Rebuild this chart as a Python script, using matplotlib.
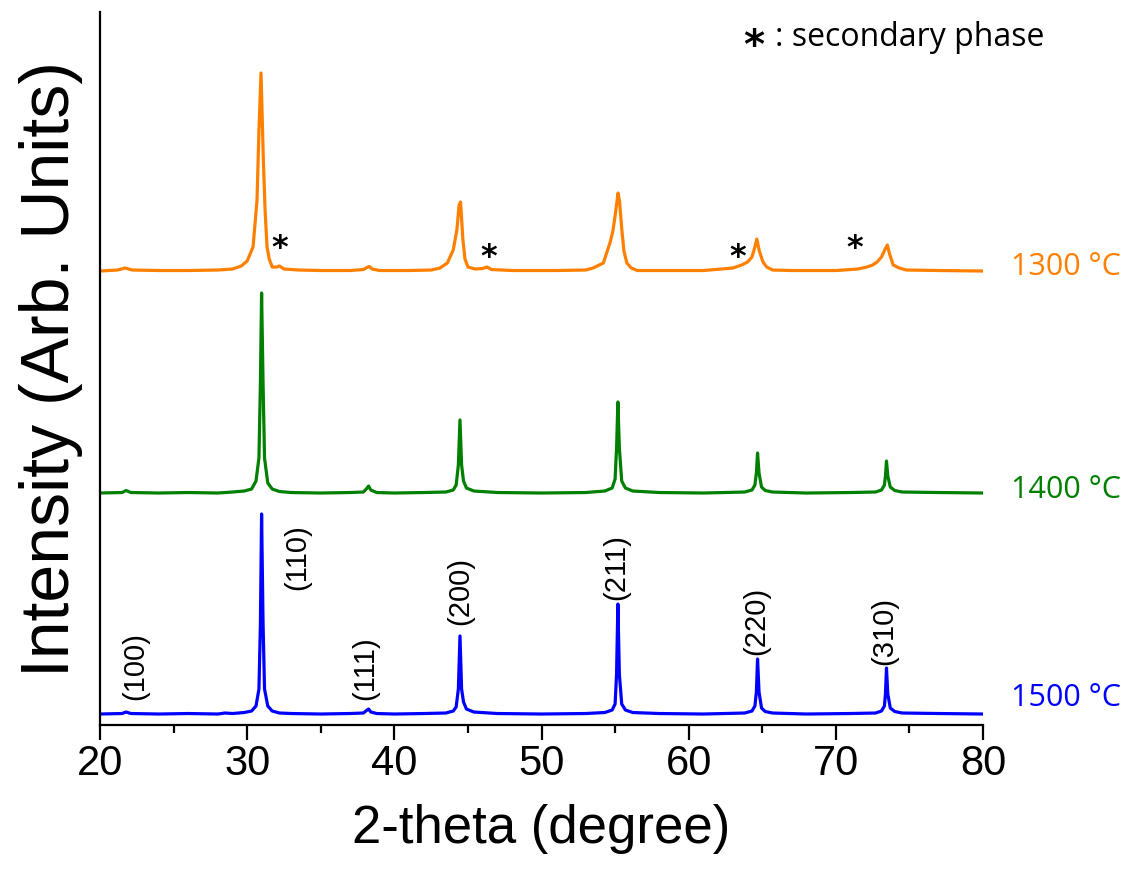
import matplotlib
matplotlib.use("Agg")
import matplotlib.pyplot as plt
from matplotlib.ticker import MultipleLocator

# ---------------- data ----------------
# intensity above each pattern's own baseline (arb. units)
x_1500 = [20.0, 21.5, 21.77, 22.1, 24.0, 26.0, 28.0, 28.5, 29.0, 29.8, 30.3, 30.6,
          30.8, 30.9, 30.98, 31.08, 31.18, 31.4, 31.7, 32.2, 33.0, 35.0, 37.0,
          37.9, 38.15, 38.25, 38.4, 38.8, 40.0, 42.0, 43.5, 44.0, 44.2, 44.35,
          44.46, 44.57, 44.7, 44.9, 45.4, 47.0, 50.0, 53.0, 54.3, 54.8, 55.0,
          55.1, 55.19, 55.29, 55.45, 55.7, 56.2, 58.0, 61.0, 63.8, 64.3, 64.5,
          64.6, 64.68, 64.78, 64.95, 65.2, 65.7, 68.0, 71.0, 72.7, 73.1, 73.3,
          73.37, 73.44, 73.53, 73.7, 74.0, 74.5, 77.0, 80.0]
y_1500 = [0, 0.5, 2, 0.5, 0, 0.5, 0, 1, 0.5, 1.5, 3, 8,
          25, 90, 200, 90, 25, 8, 3, 1, 0.5, 0, 0.5,
          1, 4, 5, 2, 0.5, 0, 0.5, 1, 3, 7, 25,
          78, 25, 12, 5, 2, 0.5, 0, 0.5, 1.5, 4, 10,
          40, 110, 40, 10, 4, 1.5, 0.5, 0, 1, 3, 8,
          22, 55, 22, 6, 2.5, 1, 0, 0.5, 1, 3, 8,
          20, 46, 20, 6, 2.5, 1, 0.5, 0]

x_1400 = [20.0, 21.5, 21.77, 22.1, 24.0, 26.0, 28.0, 29.0, 29.8, 30.3, 30.6,
          30.8, 30.9, 30.98, 31.08, 31.18, 31.4, 31.7, 32.2, 33.0, 35.0, 37.0,
          37.9, 38.15, 38.25, 38.4, 38.8, 40.0, 42.0, 43.5, 44.0, 44.2, 44.35,
          44.46, 44.57, 44.7, 44.9, 45.4, 47.0, 50.0, 53.0, 54.3, 54.8, 55.0,
          55.1, 55.19, 55.29, 55.45, 55.7, 56.2, 58.0, 61.0, 63.8, 64.3, 64.5,
          64.6, 64.68, 64.78, 64.95, 65.2, 65.7, 68.0, 71.0, 72.7, 73.1, 73.3,
          73.37, 73.44, 73.53, 73.7, 74.0, 74.5, 77.0, 80.0]
y_1400 = [0, 0.5, 2.5, 0.5, 0, 0.5, 0, 1, 2, 4, 12,
          35, 110, 200, 110, 35, 10, 4, 1.5, 0.5, 0, 0.5,
          1, 5, 7, 3, 0.5, 0, 0.5, 1, 3, 8, 28,
          73, 28, 12, 5, 2, 0.5, 0, 0.5, 2, 5, 14,
          45, 91, 45, 12, 5, 2, 0.5, 0, 1, 3, 8,
          20, 40, 20, 6, 2.5, 1, 0, 0.5, 1, 3, 8,
          17, 32, 17, 6, 2.5, 1, 0.5, 0]

x_1300 = [20.0, 21.2, 21.7, 22.2, 24.0, 26.0, 28.0, 29.0, 29.6, 30.0, 30.4,
          30.67, 30.8, 30.94, 31.1, 31.22, 31.35, 31.5, 31.7, 32.0, 32.2, 32.5,
          33.5, 35.0, 37.0, 37.9, 38.2, 38.3, 38.5, 39.0, 41.0, 42.5, 43.1,
          43.6, 44.0, 44.25, 44.4, 44.5, 44.66, 44.8, 45.0, 45.5, 46.0, 46.3,
          46.6, 48.0, 51.0, 53.0, 53.5, 54.2, 54.65, 54.85, 55.0, 55.2, 55.3,
          55.46, 55.6, 55.8, 56.1, 56.5, 58.0, 61.0, 63.0, 63.6, 64.0, 64.3,
          64.5, 64.63, 64.8, 65.05, 65.3, 65.7, 67.0, 70.0, 71.5, 72.1, 72.5,
          72.8, 73.1, 73.35, 73.5, 73.65, 73.9, 74.3, 74.8, 77.0, 80.0]
y_1300 = [0, 1, 3, 1, 0.5, 0.5, 1, 2, 5, 10, 24,
          71, 140, 198, 111, 60, 24, 12, 4, 4, 5, 2,
          1, 0.5, 0.5, 1.5, 4, 4.5, 2, 0.5, 0.5, 1, 3,
          8, 21, 41, 66, 69, 31, 12, 4, 2, 2.5, 4,
          1.5, 0.5, 0.5, 1, 3, 8, 28, 40, 55, 78, 70,
          41, 20, 8, 3, 0.5, 0.5, 0.5, 3, 6, 9, 14,
          24, 32, 20, 9, 4, 1, 0.5, 0.5, 2, 4, 6,
          9, 14, 22, 26, 17, 6, 3, 1, 0.5, 0]

series_labels = ["1500 °C", "1400 °C", "1300 °C"]
series_colors = ["#0000FF", "#008000", "#FF8000"]

hkl_labels = ["(100)", "(110)", "(111)", "(200)", "(211)", "(220)", "(310)"]
hkl_x = [22.4, 33.4, 38.0, 44.46, 55.1, 64.6, 73.3]

star_x = [32.2, 46.4, 63.3, 71.3]

# ---------------- figure ----------------
fig = plt.figure(figsize=(11.35, 8.71), dpi=100)
ax = fig.add_axes([0.0881, 0.1676, 0.7780, 0.8186])

offsets = [11, 232, 454]
series = [(x_1500, y_1500), (x_1400, y_1400), (x_1300, y_1300)]
for (xs, ys), off, col in zip(series, offsets, series_colors):
    ax.plot(xs, [v + off for v in ys], color=col, lw=2.3, solid_joinstyle="round")

ax.set_xlim(20, 80)
ax.set_ylim(0, 713)

# series labels on the right
label_y = [27, 235, 458]
for lab, col, ly in zip(series_labels, series_colors, label_y):
    ax.text(81.9, ly, lab, color=col, fontsize=22, family="Open Sans",
            ha="left", va="center", clip_on=False)

# reflection indices
hkl_bottom = [25, 135, 25, 100, 125, 70, 60]
for lab, hx, hb in zip(hkl_labels, hkl_x, hkl_bottom):
    ax.text(hx, hb, lab, rotation=90, ha="center", va="bottom", fontsize=21,
            family="Liberation Sans")

# secondary phase markers
star_y = [477, 468, 468, 477]
for sx, sy in zip(star_x, star_y):
    ax.text(sx, sy, "*", ha="center", va="center", fontsize=23,
            family="DejaVu Sans", fontweight="bold")

fig.text(0.6645, 0.946, "*", ha="center", va="center", fontsize=29,
         family="DejaVu Sans", fontweight="bold")
fig.text(0.683, 0.957, ": secondary phase", ha="left", va="center",
         fontsize=23, family="Open Sans")

# axes styling
for s in ["top", "right"]:
    ax.spines[s].set_visible(False)
for s in ["left", "bottom"]:
    ax.spines[s].set_linewidth(1.6)
ax.set_yticks([])
ax.xaxis.set_major_locator(MultipleLocator(10))
ax.xaxis.set_minor_locator(MultipleLocator(5))
ax.tick_params(axis="x", which="major", direction="out", length=11, width=1.6,
               labelsize=30, pad=3)
ax.tick_params(axis="x", which="minor", direction="out", length=6, width=1.6)
for t in ax.get_xticklabels():
    t.set_family("Liberation Sans")

ax.set_xlabel("2-theta (degree)", fontsize=38, family="Liberation Sans",
              labelpad=14)
ax.set_ylabel("Intensity (Arb. Units)", fontsize=49, family="Liberation Sans",
              labelpad=12)

fig.savefig("out.png", dpi=100)
